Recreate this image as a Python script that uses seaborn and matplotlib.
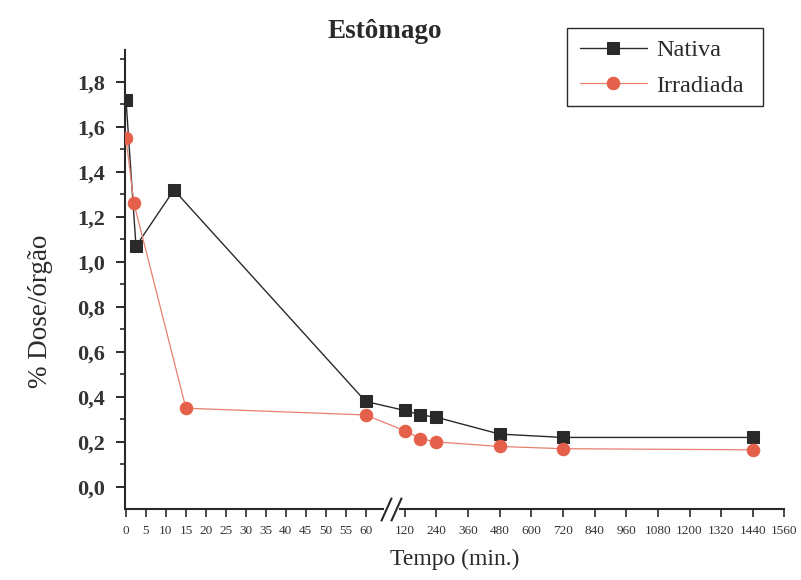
import numpy as np
import matplotlib
matplotlib.use("Agg")
import matplotlib.pyplot as plt
import matplotlib.transforms as mtransforms
from matplotlib.patches import Rectangle
from matplotlib.ticker import FixedLocator, MultipleLocator, FuncFormatter
import seaborn as sns

# Dose distribution in the stomach over time
tempo_nativa = [0, 2.5, 12, 60, 120, 180, 240, 480, 720, 1440]
dose_nativa = [1.72, 1.07, 1.32, 0.38, 0.34, 0.32, 0.31, 0.235, 0.22, 0.22]
tempo_irradiada = [0, 2, 15, 60, 120, 180, 240, 480, 720, 1440]
dose_irradiada = [1.55, 1.26, 0.35, 0.32, 0.25, 0.215, 0.20, 0.18, 0.17, 0.165]

ticks_curto = list(range(0, 61, 5))
ticks_longo = list(range(120, 1561, 120))
ticks_y = [0.0, 0.2, 0.4, 0.6, 0.8, 1.0, 1.2, 1.4, 1.6, 1.8]

sns.set_style("ticks")
plt.rcParams["font.family"] = ["Liberation Serif", "DejaVu Serif"]

INK = "#2a2a2a"
RED = "#e4604a"
W, H = 801, 580

# Broken time axis: 0-60 min expanded, 120-1560 min compressed
_t = [-1000.0, 60.0, 120.0, 10000.0]
_u = [-4000.0, 240.0, 279.0, 279.0 + (10000.0 - 120.0) * 31.7 / 120.0]


def fwd(x):
    return np.interp(x, _t, _u)


def inv(u):
    return np.interp(u, _u, _t)


fig = plt.figure(figsize=(W / 100, H / 100), dpi=100)
ax = fig.add_axes([125 / W, 1 - 509 / H, (785 - 125) / W, (509 - 50) / H])

sns.lineplot(x=tempo_nativa, y=dose_nativa, ax=ax, color=INK, lw=1.0,
             marker="s", markersize=8, markerfacecolor=INK, markeredgecolor=INK,
             label="Nativa", zorder=3)
sns.lineplot(x=tempo_irradiada, y=dose_irradiada, ax=ax, color="#e8806f", lw=0.9,
             marker="o", markersize=9, markerfacecolor=RED, markeredgecolor=RED,
             label="Irradiada", zorder=4)

ax.set_xscale("function", functions=(fwd, inv))
ax.set_xlim(-0.25, 1562)
ax.set_ylim(-0.098, 1.942)

ax.xaxis.set_major_locator(FixedLocator(ticks_curto + ticks_longo))
ax.xaxis.set_minor_locator(FixedLocator([]))
ax.yaxis.set_major_locator(FixedLocator(ticks_y))
ax.yaxis.set_minor_locator(MultipleLocator(0.1))
ax.yaxis.set_major_formatter(FuncFormatter(lambda v, p: f"{v:.1f}".replace(".", ",")))
ax.xaxis.set_major_formatter(FuncFormatter(lambda v, p: f"{int(round(v))}"))

ax.tick_params(axis="y", which="major", direction="out", length=6.5, width=1.4,
               color=INK, labelsize=16, labelcolor="#333333", pad=8)
ax.tick_params(axis="y", which="minor", direction="out", length=3.6, width=1.2, color=INK)
ax.tick_params(axis="x", which="major", direction="out", length=5.8, width=1.2,
               color=INK, labelsize=9.5, labelcolor="#333333", pad=6)
for lab in ax.get_yticklabels():
    lab.set_fontweight("bold")

sns.despine(ax=ax)
ax.spines["left"].set_linewidth(1.5)
ax.spines["left"].set_color(INK)
ax.spines["bottom"].set_visible(False)

# Bottom axis line drawn in two pieces with a // break between 60 and 120 min
trans = mtransforms.blended_transform_factory(ax.transData, ax.transAxes)
ax.plot([-0.25, 88], [0, 0], transform=trans, color=INK, lw=1.5, clip_on=False,
        solid_capstyle="butt")
ax.plot([111, 1562], [0, 0], transform=trans, color=INK, lw=1.5, clip_on=False,
        solid_capstyle="butt")
ax.plot([92, 106], [0, 0], transform=trans, ls="none", clip_on=False,
        marker=[(-0.45, -1.0), (0.45, 1.0)], markersize=17, markeredgewidth=1.5,
        markeredgecolor=INK)

ax.set_xlabel("Tempo (min.)", fontsize=17, color=INK, labelpad=8)
ax.set_ylabel("% Dose/órgão", fontsize=19.5, color=INK)
ax.yaxis.set_label_coords((53 - 125) / 660, (509 - 311) / 459)

fig.text(385 / W, 1 - 31 / H, "Estômago", ha="center", va="center",
         fontsize=19.5, fontweight="bold", color=INK)

handles, labels = ax.get_legend_handles_labels()
if ax.get_legend() is not None:
    ax.get_legend().remove()
leg = fig.legend(handles, labels, loc="center left",
                 bbox_to_anchor=(580 / W, 1 - 68 / H), bbox_transform=fig.transFigure,
                 fontsize=17.5, frameon=False, handlelength=2.75,
                 handletextpad=0.37, borderpad=0.0, labelspacing=0.57,
                 borderaxespad=0.0)
for t in leg.get_texts():
    t.set_color(INK)
# Legend frame
fig.patches.append(Rectangle((567 / W, 1 - 106 / H), (763 - 567) / W, (106 - 28) / H,
                             transform=fig.transFigure, fill=False, edgecolor=INK,
                             linewidth=1.0, zorder=5))

fig.savefig("out.png", dpi=100, facecolor="white")
